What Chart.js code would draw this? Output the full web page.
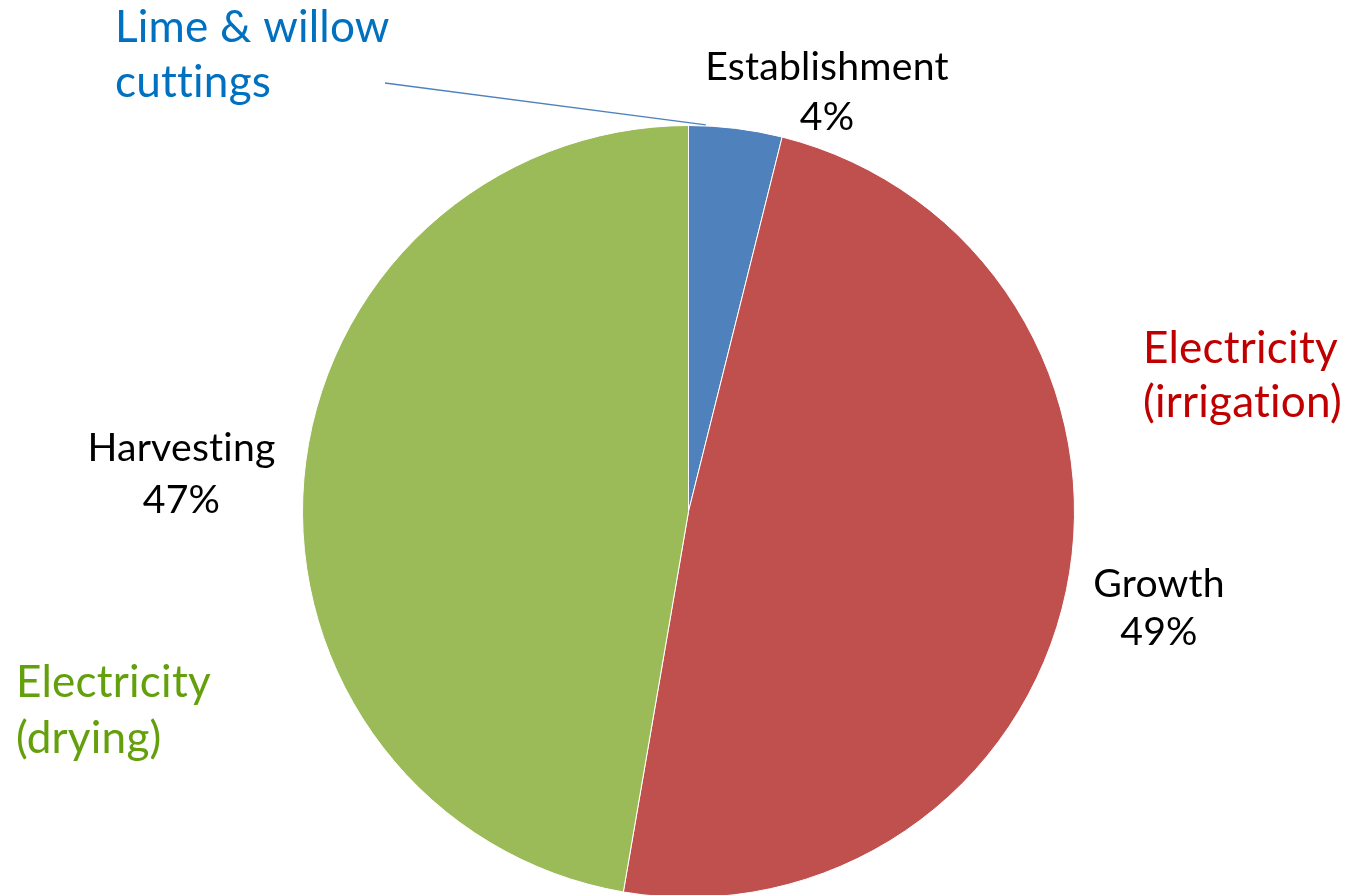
<!DOCTYPE html>
<html>
<head>
<meta charset="utf-8">
<script src="https://cdn.jsdelivr.net/npm/chart.js@4/dist/chart.umd.min.js"></script>
<style>
html,body{margin:0;padding:0;background:#fff;overflow:hidden;}
#wrap{position:absolute;left:0;top:0;width:1348px;height:900px;}
</style>
</head>
<body>
<div id="wrap"><canvas id="c" width="1348" height="900"></canvas></div>
<script>
// ---- data ----
const categories = ['Establishment', 'Growth', 'Harvesting'];
const shares = [3.9, 48.8, 47.3];
const percentLabels = ['4%', '49%', '47%'];
const sliceColors = ['#4F81BD', '#C0504D', '#9BBB59'];
const noteLines = [['Lime & willow', 'cuttings'], ['Electricity', '(irrigation)'], ['Electricity', '(drying)']];
const noteColors = ['#0070C0', '#C00000', '#64A00C'];

// ---- text layout (pixels) ----
const FONT = 'Lato, "Open Sans", sans-serif';
const labelPos = [ {x: 827, y: [80, 130]}, {x: 1159, y: [597, 645]}, {x: 181.5, y: [461, 513]} ];
const notePos = [ {x: 115, y: [42, 97]}, {x: 1143, y: [363, 417]}, {x: 16, y: [697, 753]} ];

function fitSize(ctx, text, target) {
  ctx.font = '100px ' + FONT;
  return 100 * target / ctx.measureText(text).width;
}

const textPlugin = {
  id: 'textPlugin',
  afterDraw(chart) {
    const ctx = chart.ctx;
    ctx.save();
    if ('letterSpacing' in ctx) ctx.letterSpacing = '0.2px';
    const labelSize = fitSize(ctx, 'Establishment', 242);
    const noteSize = fitSize(ctx, 'Lime & willow', 273);

    // leader line from note to the first slice's outer edge
    const arc = chart.getDatasetMeta(0).data[0];
    const a = arc.startAngle + 0.045;
    const ex = arc.x + Math.cos(a) * arc.outerRadius;
    const ey = arc.y + Math.sin(a) * arc.outerRadius;
    ctx.strokeStyle = sliceColors[0];
    ctx.lineWidth = 1.3;
    ctx.beginPath();
    ctx.moveTo(385, 83);
    ctx.lineTo(ex, ey - 1);
    ctx.stroke();

    ctx.textBaseline = 'alphabetic';
    ctx.fillStyle = '#000';
    ctx.textAlign = 'center';
    ctx.font = labelSize.toFixed(1) + 'px ' + FONT;
    categories.forEach((c, i) => {
      const p = labelPos[i];
      ctx.fillText(c, p.x, p.y[0]);
      ctx.fillText(percentLabels[i], p.x, p.y[1]);
    });

    ctx.textAlign = 'left';
    ctx.font = noteSize.toFixed(1) + 'px ' + FONT;
    noteLines.forEach((lines, i) => {
      ctx.fillStyle = noteColors[i];
      const p = notePos[i];
      lines.forEach((t, j) => ctx.fillText(t, p.x, p.y[j]));
    });
    ctx.restore();
  }
};

new Chart(document.getElementById('c'), {
  type: 'pie',
  data: {
    labels: categories,
    datasets: [{
      data: shares,
      backgroundColor: sliceColors,
      borderColor: '#ffffff',
      borderWidth: 1
    }]
  },
  options: {
    responsive: false,
    animation: false,
    devicePixelRatio: 1,
    layout: { padding: { left: 302, right: 273, top: 125, bottom: 2 } },
    plugins: { legend: { display: false }, tooltip: { enabled: false } }
  },
  plugins: [textPlugin]
});
</script>
</body>
</html>
